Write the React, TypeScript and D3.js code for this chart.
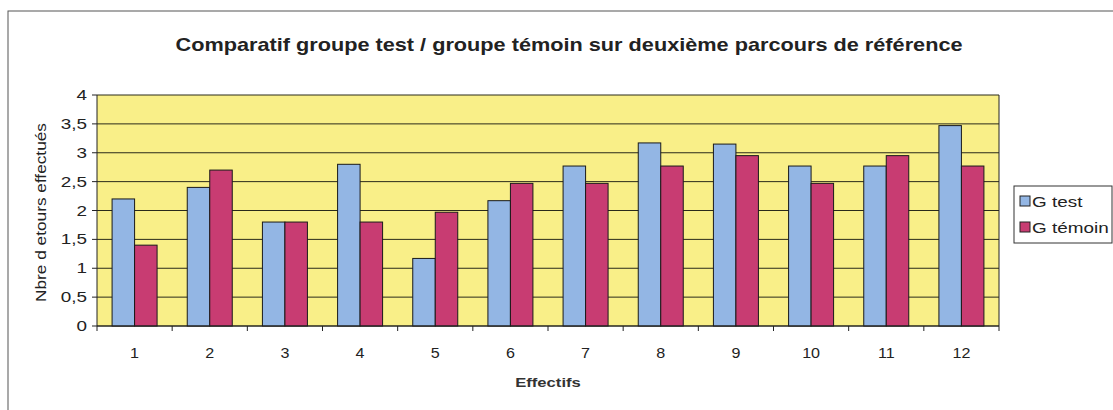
import React from "react";
import * as d3 from "d3";

const categories = ["1", "2", "3", "4", "5", "6", "7", "8", "9", "10", "11", "12"];
const gTest = [2.2, 2.4, 1.8, 2.8, 1.17, 2.17, 2.77, 3.17, 3.15, 2.77, 2.77, 3.47];
const gTemoin = [1.4, 2.7, 1.8, 1.8, 1.97, 2.47, 2.47, 2.77, 2.95, 2.47, 2.95, 2.77];
const yTicks = [0, 0.5, 1, 1.5, 2, 2.5, 3, 3.5, 4];
const seriesNames = ["G test", "G témoin"];
const seriesColors = ["#93B6E4", "#C83C72"];

const W = 1113;
const H = 410;
const plot = { left: 97, right: 999, top: 95, bottom: 326 };
const SX = 1.35;

export default function App() {
  const x = d3.scaleBand<string>().domain(categories).range([plot.left, plot.right]).padding(0);
  const y = d3.scaleLinear().domain([0, 4]).range([plot.bottom, plot.top]);
  const step = x.step();
  const barW = 22.5;
  const inner = d3
    .scaleBand<number>()
    .domain([0, 1])
    .range([(step - 2 * barW) / 2, (step + 2 * barW) / 2])
    .padding(0);
  const fmt = (v: number) => String(v).replace(".", ",");
  const font = "Arial, 'Liberation Sans', sans-serif";
  const series = [gTest, gTemoin];

  return (
    <svg
      width={W}
      height={H}
      style={{ position: "absolute", left: 0, top: 0, background: "#fff" }}
      fontFamily={font}
    >
      <rect x={8} y={11} width={W + 10} height={H + 10} fill="#fff" stroke="#555" strokeWidth={1} />
      <text
        transform={`translate(569, 51) scale(1.24, 1)`}
        textAnchor="middle"
        fontSize={17.5}
        fontWeight="bold"
        fill="#222"
      >
        Comparatif groupe test / groupe témoin sur deuxième parcours de référence
      </text>

      <rect
        x={plot.left}
        y={plot.top}
        width={plot.right - plot.left}
        height={plot.bottom - plot.top}
        fill="#F9EF88"
      />
      {yTicks.map((t) => (
        <g key={t}>
          <line x1={plot.left} x2={plot.right} y1={y(t)} y2={y(t)} stroke="#2a2a1a" strokeWidth={1} />
          <line x1={plot.left - 5} x2={plot.left} y1={y(t)} y2={y(t)} stroke="#222" strokeWidth={1} />
          <text
            transform={`translate(${plot.left - 10}, ${y(t) + 5}) scale(${SX}, 1)`}
            textAnchor="end"
            fontSize={14}
            fill="#222"
          >
            {fmt(t)}
          </text>
        </g>
      ))}
      <line x1={plot.right} x2={plot.right} y1={plot.top} y2={plot.bottom} stroke="#222" />
      <line x1={plot.left} x2={plot.left} y1={plot.top} y2={plot.bottom} stroke="#222" />

      {categories.map((c, i) => (
        <g key={c}>
          {series.map((s, k) => (
            <rect
              key={k}
              x={(x(c) as number) + (inner(k) as number)}
              y={y(s[i])}
              width={inner.bandwidth()}
              height={y(0) - y(s[i])}
              fill={seriesColors[k]}
              stroke="#1a1a1a"
              strokeWidth={1}
            />
          ))}
          <text
            transform={`translate(${(x(c) as number) + step / 2}, 358) scale(1.15, 1)`}
            textAnchor="middle"
            fontSize={14}
            fill="#222"
          >
            {c}
          </text>
        </g>
      ))}
      {d3.range(categories.length + 1).map((i) => {
        const xx = plot.left + i * step;
        return <line key={i} x1={xx} x2={xx} y1={plot.bottom} y2={plot.bottom + 5} stroke="#222" />;
      })}
      <line x1={plot.left} x2={plot.right} y1={plot.bottom} y2={plot.bottom} stroke="#222" />

      <text
        transform={`translate(548, 387) scale(1.28, 1)`}
        textAnchor="middle"
        fontSize={13}
        fontWeight="bold"
        fill="#333"
      >
        Effectifs
      </text>
      <text
        transform={`translate(46, ${(plot.top + plot.bottom) / 2 + 2}) rotate(-90) scale(1.15, 1)`}
        textAnchor="middle"
        fontSize={15}
        fill="#222"
      >
        Nbre d etours effectués
      </text>

      <rect x={1014} y={186} width={98} height={57} fill="#fff" stroke="#333" />
      {seriesNames.map((n, k) => (
        <g key={n}>
          <rect x={1020} y={196 + k * 26} width={10} height={10} fill={seriesColors[k]} stroke="#222" />
          <text
            transform={`translate(1032, ${207 + k * 26}) scale(${SX}, 1)`}
            fontSize={14}
            fill="#222"
          >
            {n}
          </text>
        </g>
      ))}
    </svg>
  );
}
